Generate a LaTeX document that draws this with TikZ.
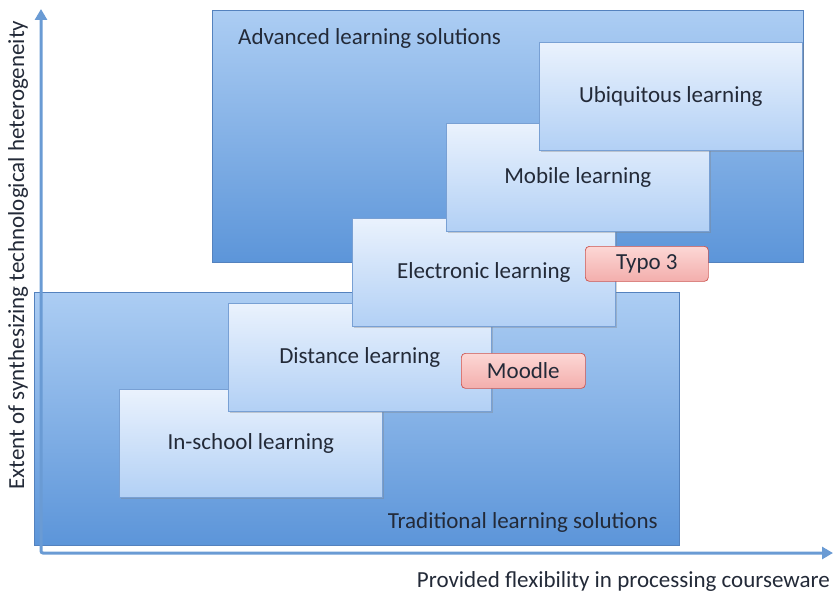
\documentclass[tikz,border=0pt]{standalone}
\usepackage{fontspec}
\setmainfont{Carlito}
\usetikzlibrary{shadows, positioning, arrows.meta}

\definecolor{areatop}{RGB}{172,205,243}
\definecolor{areabot}{RGB}{92,149,217}
\definecolor{areaedge}{RGB}{84,130,190}
\definecolor{stagetop}{RGB}{234,242,253}
\definecolor{stagebot}{RGB}{178,208,245}
\definecolor{stageedge}{RGB}{120,160,212}
\definecolor{tooltop}{RGB}{252,215,213}
\definecolor{toolbot}{RGB}{243,174,172}
\definecolor{tooledge}{RGB}{205,85,80}
\definecolor{axisblue}{RGB}{106,155,212}
\definecolor{ink}{RGB}{35,42,56}

\tikzset{
  area/.style={draw=areaedge, line width=0.6pt, top color=areatop, bottom color=areabot,
    anchor=north west, inner sep=0pt},
  stage/.style={draw=stageedge, line width=0.6pt, top color=stagetop, bottom color=stagebot,
    anchor=north west, inner sep=0pt, minimum width=263pt, minimum height=108pt,
    text=ink, font=\fontsize{23}{26}\selectfont,
    drop shadow={shadow xshift=1.5pt, shadow yshift=-1.5pt, opacity=0.35}},
  tool/.style={draw=tooledge, line width=0.7pt, rounded corners=4pt,
    top color=tooltop, bottom color=toolbot, anchor=north west, inner sep=0pt,
    minimum height=35pt, text=ink, font=\fontsize{23}{26}\selectfont},
  caption/.style={text=ink, font=\fontsize{23}{26}\selectfont, inner sep=0pt},
  axis/.style={draw=axisblue, line width=3pt, rounded corners=2pt,
    {Triangle[length=11pt, width=12pt]}-{Triangle[length=11pt, width=12pt]}}
}

\begin{document}
\begin{tikzpicture}[x=1pt, y=-1pt]
			\useasboundingbox (0,0) rectangle (835,594);

			% Areas
			\node (advanced) [area, minimum width=591pt, minimum height=252pt] at (212,10) {};
			\node (advlabel) [caption, anchor=west] at (238,38) {Advanced learning solutions};
			\node (traditional) [area, minimum width=645pt, minimum height=253pt] at (34,292) {};
			\node (tradlabel) [caption, anchor=east] at (658,522) {Traditional learning solutions};

			% Stages
			\node (school) [stage] at (119,389) {In-school learning};
			\node (distance) [stage] at (228,303) {Distance learning};
			\node (electronic) [stage] at (352,218) {Electronic learning};
			\node (mobile) [stage] at (446,123) {Mobile learning};
			\node (ubiquitous) [stage] at (539,42) {Ubiquitous learning};

			% Tools
			\node (typo) [tool, minimum width=123pt] at (585,246) {Typo 3};
			\node (moodle) [tool, minimum width=124pt] at (461,353) {Moodle};

			% Axes
			\coordinate (ytip) at (41,9);
			\coordinate (xtip) at (833,553);
			\draw [axis] (ytip) |- (xtip);
			\node (ylabel) [caption, rotate=90] at (18,255) {Extent of synthesizing technological heterogeneity};
			\node (xlabel) [caption, anchor=east] at (830,581) {Provided flexibility in processing courseware};

		\end{tikzpicture}
\end{document}
